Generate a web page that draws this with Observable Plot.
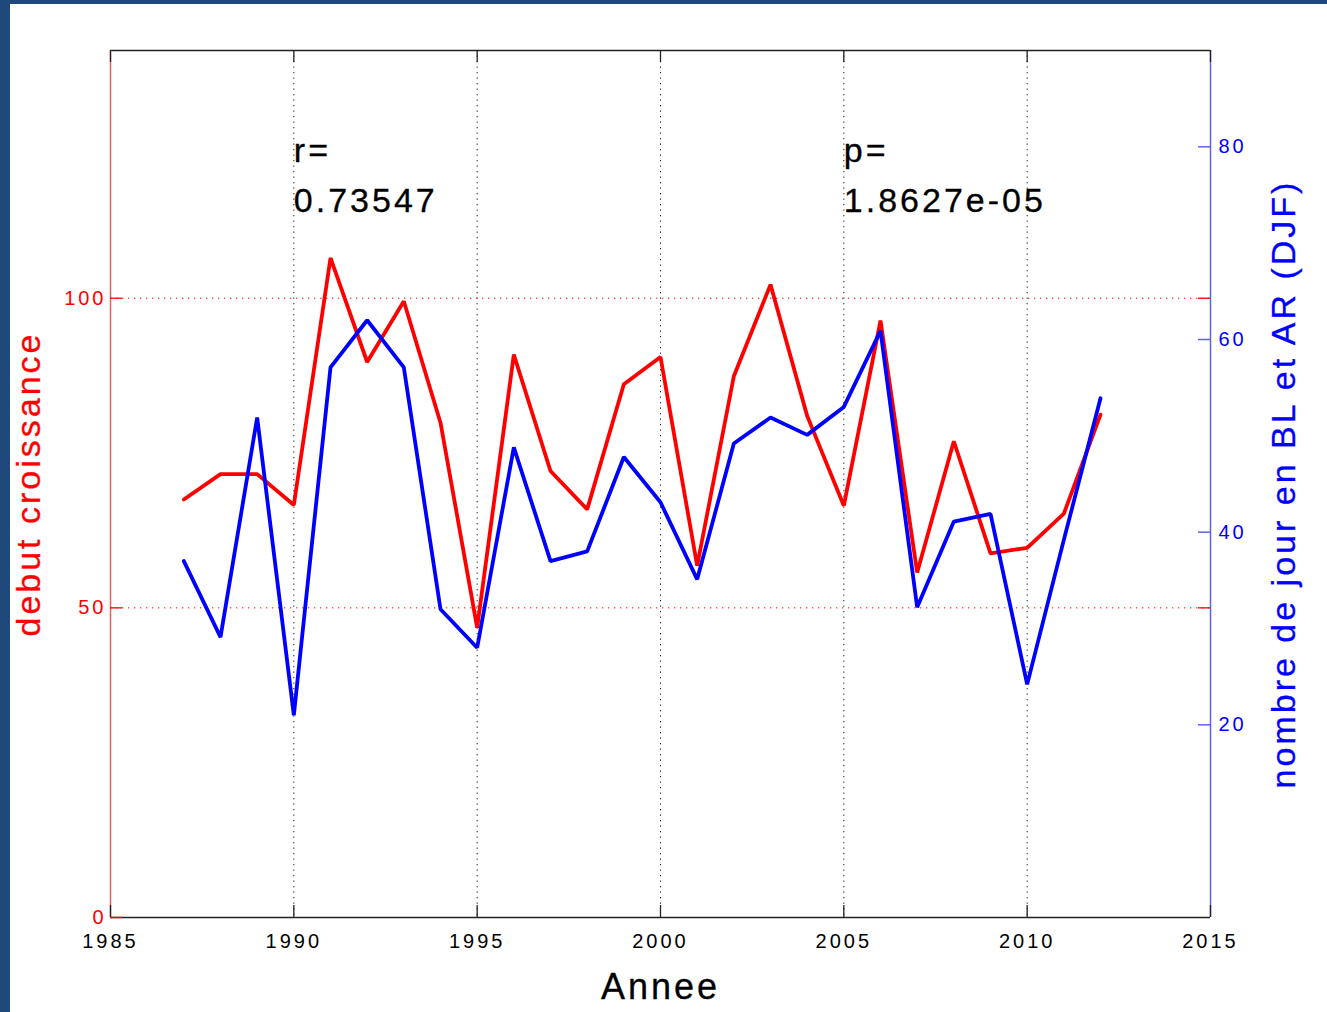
<!DOCTYPE html>
<html>
<head>
<meta charset="utf-8">
<script src="https://cdn.jsdelivr.net/npm/d3@7"></script>
<script src="https://cdn.jsdelivr.net/npm/@observablehq/plot@0.6"></script>
<style>
html, body { margin: 0; padding: 0; background: #fff; }
#wrap { position: relative; width: 1327px; height: 1012px; overflow: hidden; background: #fff; }
.bl { position: absolute; left: 0; top: 0; width: 10px; height: 1012px; background: #1f497d; }
.bt { position: absolute; left: 0; top: 0; width: 1327px; height: 4px; background: #1f497d; }
</style>
</head>
<body>
<div id="wrap"><div id="chart"></div><div class="bl"></div><div class="bt"></div></div>
<script>
// Data
const years = [1987, 1988, 1989, 1990, 1991, 1992, 1993, 1994, 1995, 1996, 1997, 1998, 1999,
               2000, 2001, 2002, 2003, 2004, 2005, 2006, 2007, 2008, 2009, 2010, 2011, 2012];
// left axis series: "debut croissance"
const debutCroissance = [67.5, 71.6, 71.6, 66.6, 106.5, 89.7, 99.5, 79.9, 46.8, 90.9, 72.1, 65.9, 86.1,
                         90.5, 56.8, 87.4, 102.2, 81.0, 66.5, 96.4, 55.7, 76.9, 58.8, 59.7, 65.2, 81.2];
// right axis series: "nombre de jour en BL et AR (DJF)"
const nombreJours = [37.0, 29.1, 51.9, 21.0, 57.1, 62.0, 57.1, 32.0, 28.0, 48.8, 37.0, 38.0, 47.8,
                     43.1, 35.1, 49.2, 51.9, 50.1, 53.0, 60.9, 32.2, 41.1, 41.9, 24.2, 39.2, 53.9];

const xTicks = [1985, 1990, 1995, 2000, 2005, 2010, 2015];
const xGrid = [1990, 1995, 2000, 2005, 2010];
const leftTicks = [0, 50, 100];
const leftGrid = [50, 100];
const rightTicks = [20, 40, 60, 80];
const leftDomain = [0, 140];
const rightDomain = [0, 90];
const xDomain = [1985, 2015];

const annX = [1990, 2005];
const annY = [120.5, 120.5];
const annText = ["r=\n0.73547", "p=\n1.8627e-05"];

// map right-axis values onto the left y scale
const k = leftDomain[1] / rightDomain[1];
const redData = years.map((y, i) => ({year: y, v: debutCroissance[i]}));
const blueData = years.map((y, i) => ({year: y, v: nombreJours[i] * k}));
const ann = annX.map((x, i) => ({x, y: annY[i], t: annText[i]}));

const RED = "#ff0000", BLUE = "#0000ff";
const RED_AX = "#f06060", BLUE_AX = "#6060f0";
const TW = 0.3; // slight text stroke to match the heavier raster font

const chart = Plot.plot({
  width: 1327,
  height: 1012,
  marginLeft: 110,
  marginRight: 117,
  marginTop: 50,
  marginBottom: 95,
  style: "font-family: 'Liberation Sans', Arial, Helvetica, sans-serif; font-size: 20px; letter-spacing: 3px; background: transparent; overflow: visible;",
  x: {domain: xDomain},
  y: {domain: leftDomain},
  marks: [
    // grid
    Plot.ruleX(xGrid, {stroke: "#222", strokeDasharray: "1.3,4.2", strokeWidth: 1}),
    Plot.ruleY(leftGrid, {stroke: RED, strokeDasharray: "1.3,4.7", strokeWidth: 1}),
    // frame
    Plot.ruleY([leftDomain[1]], {stroke: "#222", strokeWidth: 1.3}),
    Plot.ruleY([leftDomain[0]], {stroke: "#222", strokeWidth: 1.3}),
    Plot.ruleX([xDomain[0]], {stroke: RED_AX, strokeWidth: 1.5}),
    Plot.ruleX([xDomain[1]], {stroke: BLUE_AX, strokeWidth: 1.5}),
    // inward ticks
    Plot.ruleX(xTicks, {insetTop: 855, stroke: "#222", strokeWidth: 1.3}),
    Plot.ruleX(xTicks, {insetBottom: 855, stroke: "#222", strokeWidth: 1.3}),
    Plot.ruleY(leftTicks, {insetRight: 1088, stroke: RED, strokeWidth: 1.3}),
    Plot.ruleY(leftGrid, {insetLeft: 1088, stroke: RED, strokeWidth: 1.3}),
    Plot.ruleY(rightTicks, {y: d => d * k, insetLeft: 1088, stroke: BLUE_AX, strokeWidth: 1.5}),
    // tick labels
    Plot.axisX(xTicks, {anchor: "bottom", tickSize: 0, tickPadding: 16, tickFormat: d => String(d), fontSize: 20, fill: "#000"}),
    Plot.axisY(leftTicks, {anchor: "left", tickSize: 0, tickPadding: 4, tickFormat: d => String(d), fontSize: 20, fill: RED}),
    Plot.axisY(rightTicks.map(d => d * k), {anchor: "right", tickSize: 0, tickPadding: 8, tickFormat: d => String(Math.round(d / k)), fontSize: 20, fill: BLUE}),
    // data
    Plot.line(redData, {x: "year", y: "v", stroke: RED, strokeWidth: 3.8, strokeLinejoin: "miter"}),
    Plot.line(blueData, {x: "year", y: "v", stroke: BLUE, strokeWidth: 3.8, strokeLinejoin: "miter"}),
    // annotations
    Plot.text(ann, {x: "x", y: "y", text: "t", textAnchor: "start", lineAnchor: "middle", lineHeight: 1.45, fontSize: 34, fill: "#000", stroke: "#000", strokeWidth: TW}),
    // axis titles
    Plot.text(["Annee"], {frameAnchor: "bottom", textAnchor: "middle", dy: 81, fontSize: 36, fill: "#000", stroke: "#000", strokeWidth: TW}),
    Plot.text(["debut croissance"], {frameAnchor: "left", textAnchor: "middle", dx: -81, rotate: -90, fontSize: 34, fill: RED, stroke: RED, strokeWidth: TW}),
    Plot.text(["nombre de jour en BL et AR (DJF)"], {frameAnchor: "right", textAnchor: "middle", dx: 74, rotate: -90, fontSize: 34, fill: BLUE, stroke: BLUE, strokeWidth: TW})
  ]
});
document.getElementById("chart").appendChild(chart);
</script>
</body>
</html>
